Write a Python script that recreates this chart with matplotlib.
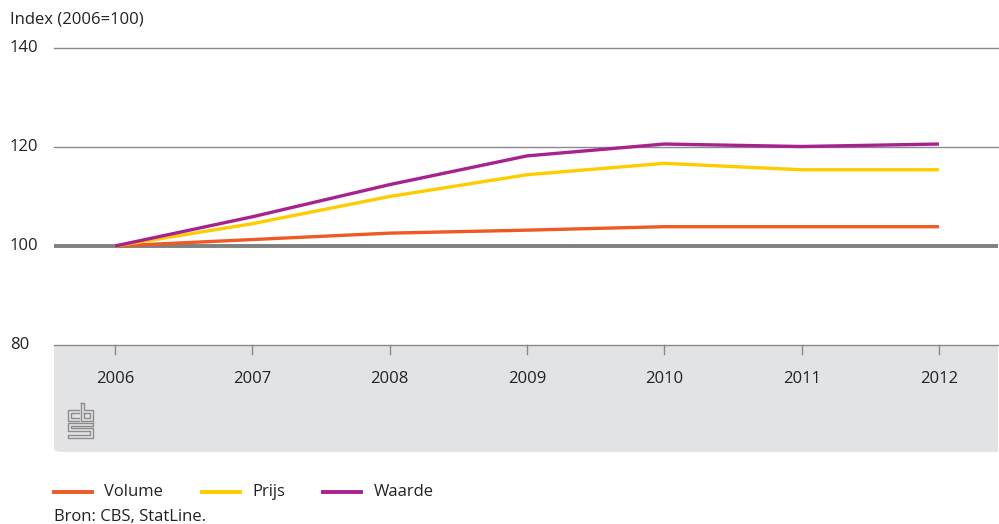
import matplotlib.pyplot as plt
from matplotlib.patches import FancyBboxPatch
from matplotlib.lines import Line2D

# ── Data ───────────────────────────────────────────────────────────────────
years  = [2006, 2007, 2008, 2009, 2010, 2011, 2012]
volume = [100.0, 101.3, 102.6, 103.2, 103.9, 103.9, 103.9]
prijs  = [100.0, 104.5, 110.0, 114.4, 116.7, 115.4, 115.4]
waarde = [100.0, 105.9, 112.4, 118.2, 120.6, 120.1, 120.6]
yticks = [80, 100, 120, 140]

C_VOL = '#ee5a24'
C_PRI = '#ffcc00'
C_WAA = '#a8228e'
C_GRID = '#8a8a8a'
C_PANEL = '#e2e3e5'
C_TEXT = '#222222'
FONT = 'Open Sans'
FS = 12

W, H = 999, 524
fig = plt.figure(figsize=(W / 100, H / 100), dpi=100)
fig.patch.set_facecolor('white')


def px(x, y):
    return x / W, 1 - y / H


# ── grey panel below the plot ──────────────────────────────────────────────
x0, y0 = px(54, 452)
x1, y1 = px(998, 345)
fig.patches.append(FancyBboxPatch((x0, y0), x1 - x0, y1 - y0,
                                  boxstyle='round,pad=0,rounding_size=0.008',
                                  transform=fig.transFigure, facecolor=C_PANEL,
                                  edgecolor='none', zorder=-5))
# square off all corners except bottom-left
fig.patches.append(plt.Rectangle((x0 + 0.02, y0), x1 - x0 - 0.02, y1 - y0,
                                 transform=fig.transFigure, facecolor=C_PANEL,
                                 edgecolor='none', zorder=-5))
fig.patches.append(plt.Rectangle((x0, y0 + 0.03), x1 - x0, y1 - y0 - 0.03,
                                 transform=fig.transFigure, facecolor=C_PANEL,
                                 edgecolor='none', zorder=-5))

# ── main axes ──────────────────────────────────────────────────────────────
left, bottom = px(54, 345)
right, top = px(998, 48)
ax = fig.add_axes([left, bottom, right - left, top - bottom])
ax.set_zorder(2)
ax.set_facecolor('none')
ax.set_xlim(2005.556, 2012.43)
ax.set_ylim(80, 140)
for s in ax.spines.values():
    s.set_visible(False)
ax.set_xticks([])
ax.set_yticks([])

for v in yticks:
    if v == 100:
        ax.axhline(v, color='#808080', linewidth=2.8, zorder=1)
    else:
        ax.axhline(v, color=C_GRID, linewidth=1.0, zorder=1, clip_on=False)

ax.plot(years, volume, color=C_VOL, linewidth=2.4, zorder=3, solid_capstyle='butt')
ax.plot(years, prijs,  color=C_PRI, linewidth=2.4, zorder=3, solid_capstyle='butt')
ax.plot(years, waarde, color=C_WAA, linewidth=2.4, zorder=4, solid_capstyle='butt')

# year ticks + labels inside the grey panel
for yr in years:
    ax.plot([yr, yr], [80, 78.1], color=C_GRID, linewidth=1.0, clip_on=False)
    ax.text(yr, 73.2, str(yr), ha='center', va='center', fontsize=FS,
            family=FONT, color=C_TEXT, clip_on=False)

# y tick labels at the figure's left edge
for v in yticks:
    yf = bottom + (v - 80) / 60 * (top - bottom)
    fig.text(10 / W, yf, str(v), ha='left', va='center', fontsize=FS,
             family=FONT, color=C_TEXT)

fig.text(10 / W, 1 - 19 / H, 'Index (2006=100)', ha='left', va='center',
         fontsize=FS, family=FONT, color=C_TEXT)

# ── cbs logo (outline sketch) ──────────────────────────────────────────────
logo = [
    [(79, 410), (68, 410), (68, 421), (79, 421)],
    [(79, 413), (71, 413), (71, 418), (79, 418)],
    [(81, 403), (81, 421), (93, 421), (93, 410), (84, 410), (84, 403), (81, 403)],
    [(84, 413), (90, 413), (90, 418), (84, 418), (84, 413)],
    [(93, 423), (68, 423), (68, 431), (90, 431), (90, 435), (68, 435),
     (68, 438), (93, 438), (93, 428), (71, 428), (71, 426), (93, 426), (93, 423)],
]
for poly in logo:
    xs = [px(a, b)[0] for a, b in poly]
    ys = [px(a, b)[1] for a, b in poly]
    fig.lines.append(Line2D(xs, ys, transform=fig.transFigure,
                            color='#8c8c8c', linewidth=1.0))

# ── legend ─────────────────────────────────────────────────────────────────
legend_items = [('Volume', C_VOL, 54, 104), ('Prijs', C_PRI, 202, 252),
                ('Waarde', C_WAA, 323, 374)]
for label, col, lx, tx in legend_items:
    xa, ya = px(lx, 492)
    xb, _ = px(lx + 38, 492)
    fig.lines.append(Line2D([xa, xb], [ya, ya], transform=fig.transFigure,
                            color=col, linewidth=2.8))
    fig.text(tx / W, ya, label, ha='left', va='center', fontsize=FS,
             family=FONT, color=C_TEXT)

fig.text(54 / W, 1 - 517 / H, 'Bron: CBS, StatLine.', ha='left', va='center',
         fontsize=FS, family=FONT, color=C_TEXT)

plt.savefig('out.png', dpi=100, facecolor=fig.get_facecolor())
